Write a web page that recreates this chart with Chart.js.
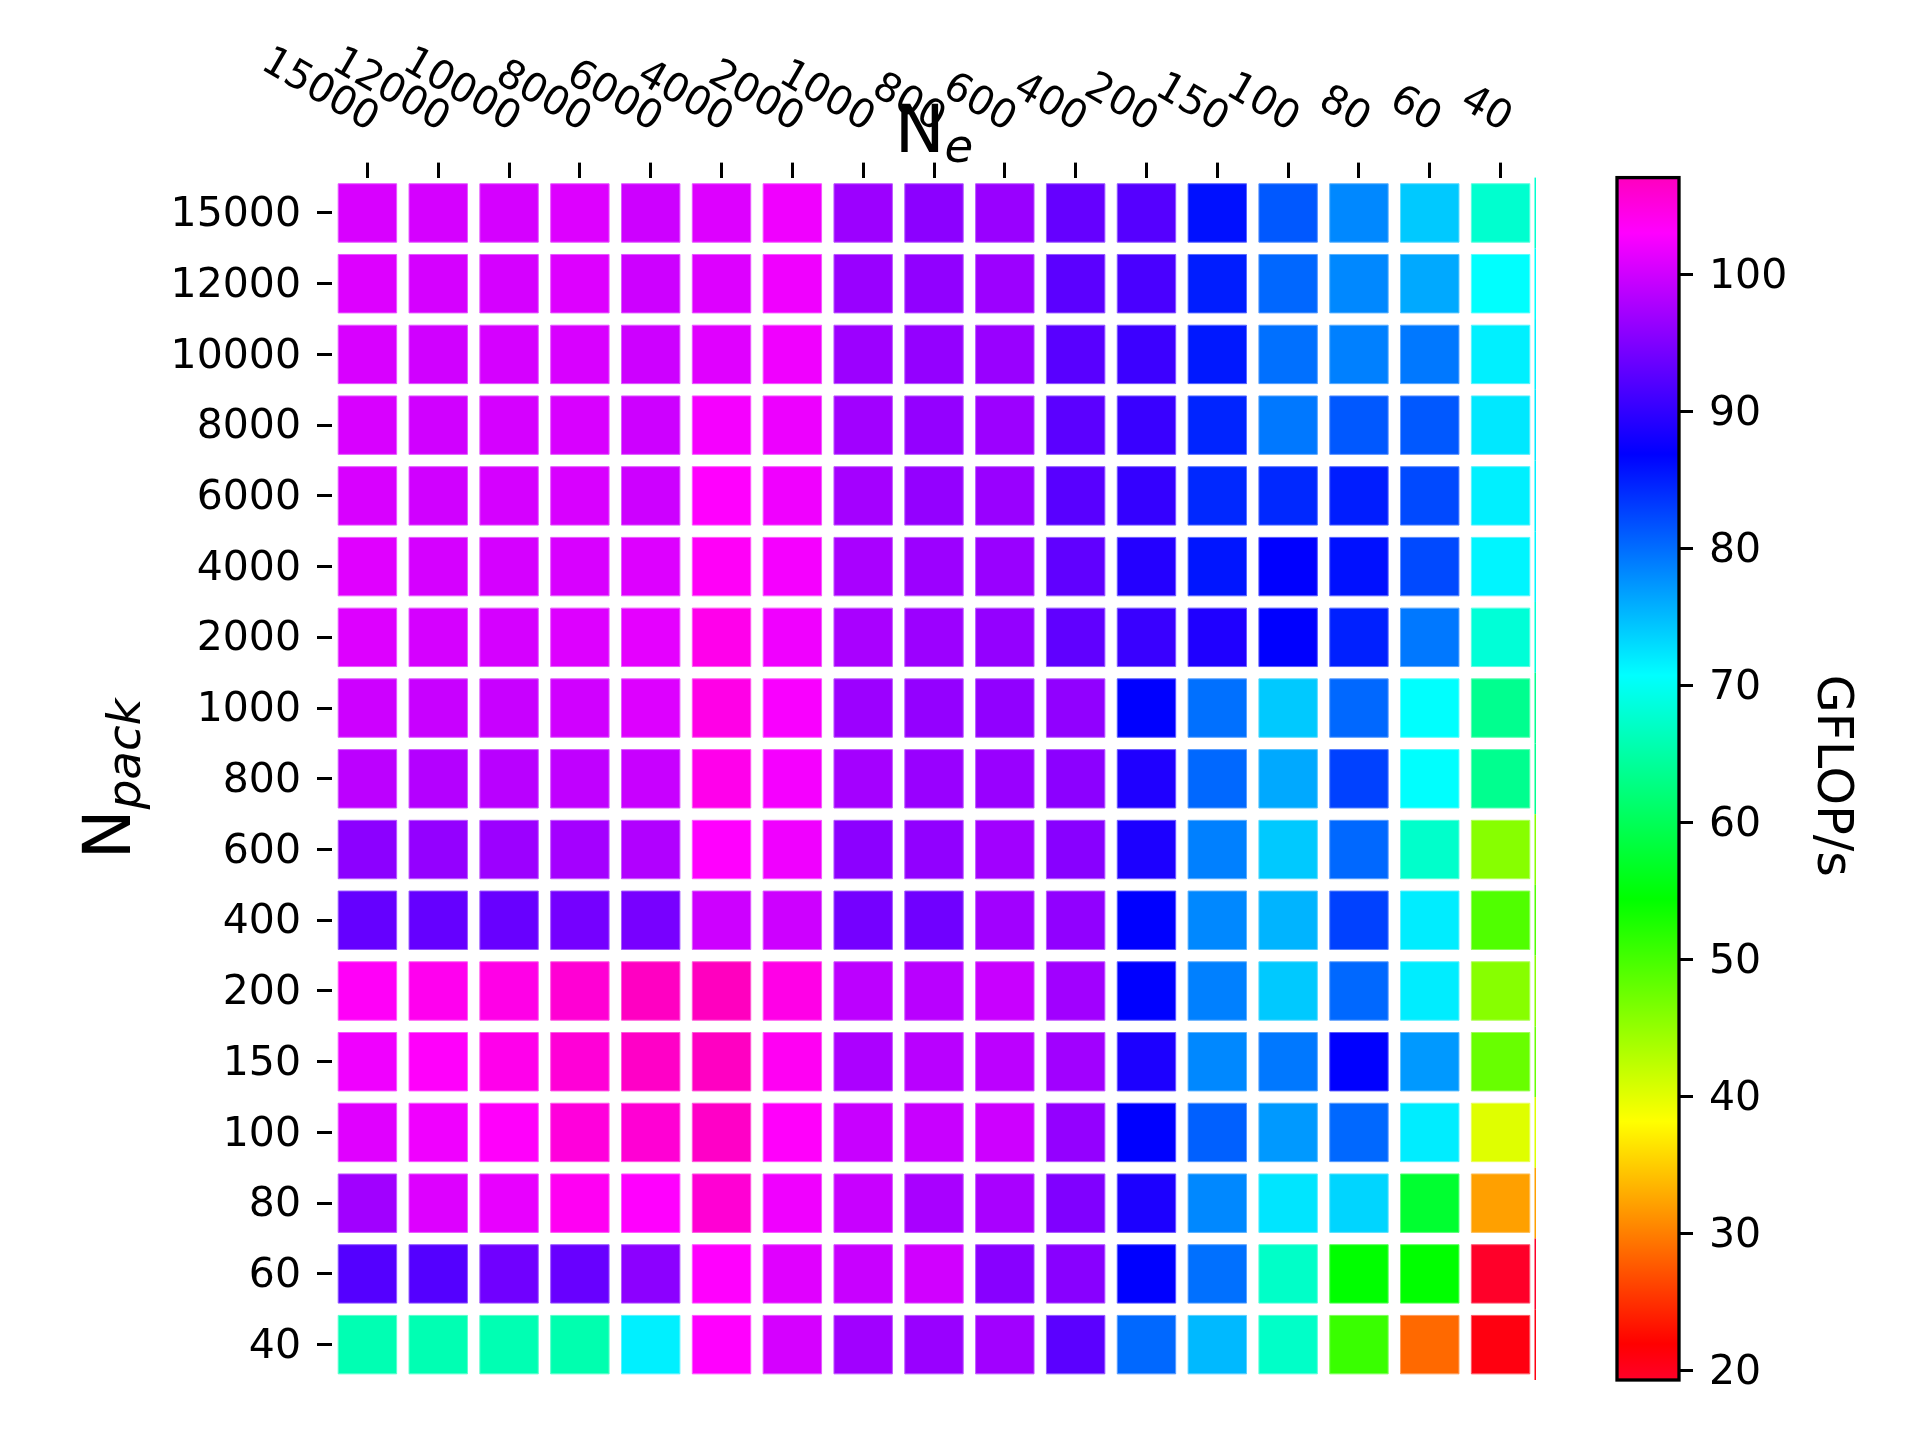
<!DOCTYPE html>
<html>
<head>
<meta charset="utf-8">
<script src="https://cdn.jsdelivr.net/npm/chart.js@4/dist/chart.umd.min.js"></script>
<style>
html,body{margin:0;padding:0;background:#fff;}
#wrap{position:relative;width:1920px;height:1440px;background:#fff;}
#wrap canvas{position:absolute;left:0;top:0;}
</style>
</head>
<body>
<div id="wrap">
<canvas id="heat" width="1920" height="1440"></canvas>
<canvas id="cbar" width="1920" height="1440"></canvas>
</div>
<script>
// ---- categories / tick labels ----
const neLabels = ['15000','12000','10000','8000','6000','4000','2000','1000','800','600','400','200','150','100','80','60','40'];
const npackLabels = ['15000','12000','10000','8000','6000','4000','2000','1000','800','600','400','200','150','100','80','60','40'];
const cbarTicks = [20, 30, 40, 50, 60, 70, 80, 90, 100];

// ---- GFLOP/s, one array per N_pack row (columns follow neLabels) ----
const r15000 = [100.6, 100.4, 100.4, 100.9, 99.9, 100.9, 102.1, 96.8, 95.8, 96.6, 93.3, 92.3, 85.9, 81.3, 78.3, 74.2, 67.7];
const r12000 = [100.9, 100.4, 100.4, 100.9, 99.9, 100.9, 102.1, 96.6, 96.1, 96.8, 92.7, 91.5, 85.1, 80.4, 78.3, 76.2, 70.7];
const r10000 = [100.6, 100.1, 100.4, 100.6, 99.9, 101.1, 102.1, 96.8, 96.3, 96.6, 92.5, 90.7, 85.4, 79.8, 78.8, 79.3, 71.7];
const r8000  = [100.6, 100.1, 100.4, 100.6, 99.9, 102.4, 101.9, 97.1, 96.3, 96.8, 92.7, 90.5, 84.6, 79.3, 81.3, 81.3, 72.2];
const r6000  = [100.6, 100.1, 100.4, 100.6, 99.9, 103.1, 102.1, 97.3, 96.3, 96.6, 92.5, 90.2, 84.4, 84.4, 85.1, 82.3, 71.7];
const r4000  = [101.1, 100.4, 100.4, 100.6, 100.9, 103.5, 102.4, 97.6, 96.8, 96.6, 93.0, 89.2, 85.6, 86.9, 85.9, 82.3, 71.4];
const r2000  = [100.9, 100.4, 100.4, 100.9, 101.4, 104.3, 102.1, 97.6, 96.8, 96.3, 93.0, 90.5, 88.9, 86.9, 84.9, 79.3, 68.2];
const r1000  = [99.9, 99.6, 99.6, 100.1, 100.9, 104.6, 102.7, 96.8, 96.3, 96.1, 96.1, 86.9, 79.8, 74.2, 80.3, 70.7, 63.6];
const r800   = [98.8, 98.3, 98.6, 99.1, 99.6, 104.3, 102.4, 97.3, 96.6, 96.6, 95.8, 88.9, 80.3, 76.2, 82.8, 70.7, 63.6];
const r600   = [95.8, 96.3, 96.8, 97.3, 98.1, 103.1, 102.1, 95.8, 96.1, 97.1, 95.5, 88.7, 78.8, 74.2, 80.3, 67.4, 45.8];
const r400   = [93.3, 93.3, 93.5, 94.3, 94.5, 99.9, 99.9, 94.3, 94.0, 97.1, 96.1, 86.9, 78.3, 75.5, 82.8, 71.9, 49.3];
const r200   = [103.5, 104.1, 104.6, 105.8, 106.9, 107.1, 104.6, 98.8, 98.6, 99.6, 97.1, 86.9, 78.8, 74.2, 80.3, 71.9, 45.8];
const r150   = [102.1, 103.3, 104.3, 105.6, 106.6, 106.9, 103.8, 97.8, 98.6, 98.8, 97.1, 88.7, 78.3, 79.3, 86.9, 77.2, 47.8];
const r100   = [101.1, 102.1, 103.3, 105.3, 105.8, 106.6, 103.3, 99.6, 99.6, 99.9, 96.3, 86.9, 80.8, 77.2, 80.3, 71.9, 40.2];
const r80    = [97.1, 100.9, 101.6, 103.8, 103.1, 105.8, 102.1, 99.6, 97.6, 97.6, 95.0, 88.7, 78.3, 72.4, 73.4, 57.5, 32.1];
const r60    = [92.2, 92.2, 94.0, 93.5, 95.8, 103.1, 101.1, 99.6, 100.1, 95.5, 95.5, 86.9, 79.8, 67.2, 54.4, 54.4, 19.3];
const r40    = [65.9, 65.9, 65.9, 65.6, 71.7, 103.1, 100.4, 97.1, 96.6, 97.1, 92.7, 80.3, 75.2, 67.2, 50.8, 28.6, 20.9];

const rows = [r15000, r12000, r10000, r8000, r6000, r4000, r2000, r1000, r800, r600, r400, r200, r150, r100, r80, r60, r40];

// ---- colormap (matplotlib gist_rainbow) ----
const cmapStops = [
  [0.000, [1.00, 0.00, 0.16]],
  [0.030, [1.00, 0.00, 0.00]],
  [0.215, [1.00, 1.00, 0.00]],
  [0.400, [0.00, 1.00, 0.00]],
  [0.586, [0.00, 1.00, 1.00]],
  [0.770, [0.00, 0.00, 1.00]],
  [0.954, [1.00, 0.00, 1.00]],
  [1.000, [1.00, 0.00, 0.75]]
];
function cmapRGB(t) {
  t = Math.max(0, Math.min(1, t));
  for (let i = 1; i < cmapStops.length; i++) {
    const [t1, c1] = cmapStops[i];
    const [t0, c0] = cmapStops[i - 1];
    if (t <= t1) {
      const f = (t - t0) / (t1 - t0);
      return c0.map((v, k) => v + (c1[k] - v) * f);
    }
  }
  return cmapStops[cmapStops.length - 1][1];
}
function rgbStr(c, mixWhite) {
  const m = mixWhite || 0;
  const r = Math.round(255 * (c[0] + (1 - c[0]) * m));
  const g = Math.round(255 * (c[1] + (1 - c[1]) * m));
  const b = Math.round(255 * (c[2] + (1 - c[2]) * m));
  return `rgb(${r},${g},${b})`;
}

const allVals = rows.flat();
const vmin = Math.min(...allVals);
const vmax = Math.max(...allVals);
const norm = v => (v - vmin) / (vmax - vmin);

const cells = [];
rows.forEach((row, r) => row.forEach((v, c) => cells.push({ x: neLabels[c], y: npackLabels[r], v: v })));

Chart.defaults.font.family = "'DejaVu Sans'";
Chart.defaults.color = '#000';

const CELL_FRAC = 0.825;
function cellRadius(ctx) {
  const a = ctx.chart.chartArea;
  if (!a) return 0;
  const pitch = (a.right - a.left) / neLabels.length;
  return pitch * CELL_FRAC / Math.SQRT2;
}

const heatPlugin = {
  id: 'heatText',
  afterDraw(chart) {
    const { ctx, chartArea: a } = chart;
    const xs = chart.scales.x, ys = chart.scales.y;
    ctx.save();
    // right edge colored line
    const rowH = (a.bottom - a.top) / npackLabels.length;
    rows.forEach((row, i) => {
      const yc = ys.getPixelForValue(i);
      ctx.fillStyle = rgbStr(cmapRGB(norm(row[row.length - 1])));
      ctx.fillRect(a.right - 1.5, yc - rowH / 2, 1.5, rowH);
    });
    // x tick labels (top, rotated)
    ctx.fillStyle = '#000';
    ctx.font = "40px 'DejaVu Sans'";
    ctx.textAlign = 'right';
    ctx.textBaseline = 'alphabetic';
    neLabels.forEach((lab, i) => {
      const px = xs.getPixelForValue(i);
      ctx.save();
      ctx.translate(px + 2, a.top - 46);
      ctx.rotate(Math.PI / 6);
      ctx.fillText(lab, 0, 0);
      ctx.restore();
    });
    // axis labels with subscripts
    const fN = "66.7px 'DejaVu Sans'";
    const fSub = "italic 46.7px 'DejaVu Sans'";
    ctx.textAlign = 'left';
    ctx.font = fN; const wN = ctx.measureText('N').width;
    ctx.font = fSub; const wE = ctx.measureText('e').width;
    const cx = (a.left + a.right) / 2;
    const x0 = cx - (wN + wE) / 2;
    ctx.font = fN; ctx.fillText('N', x0, 152);
    ctx.font = fSub; ctx.fillText('e', x0 + wN, 162);

    ctx.font = fSub; const wP = ctx.measureText('pack').width;
    ctx.save();
    ctx.translate(130, (a.top + a.bottom) / 2);
    ctx.rotate(-Math.PI / 2);
    const s = -(wN + wP) / 2;
    ctx.font = fN; ctx.fillText('N', s, 0);
    ctx.font = fSub; ctx.fillText('pack', s + wN, 10);
    ctx.restore();
    ctx.restore();
  }
};

new Chart(document.getElementById('heat'), {
  type: 'scatter',
  data: {
    datasets: [{
      data: cells,
      pointStyle: 'rect',
      pointRadius: cellRadius,
      pointHoverRadius: cellRadius,
      pointBackgroundColor: c => c.raw ? rgbStr(cmapRGB(norm(c.raw.v))) : '#000',
      pointBorderColor: c => c.raw ? rgbStr(cmapRGB(norm(c.raw.v)), 0.35) : '#000',
      pointBorderWidth: 1
    }]
  },
  options: {
    responsive: false,
    animation: false,
    events: [],
    devicePixelRatio: 1,
    clip: false,
    layout: { padding: { left: 0, top: 0, right: 384, bottom: 60 } },
    plugins: { legend: { display: false }, tooltip: { enabled: false } },
    scales: {
      x: {
        type: 'category',
        labels: neLabels,
        position: 'top',
        offset: true,
        grid: { display: true, drawOnChartArea: false, drawTicks: true, tickLength: 15, tickWidth: 3, tickColor: '#000', offset: false },
        border: { display: false },
        ticks: { display: false, autoSkip: false },
        afterFit: s => { s.height = 177.6; }
      },
      y: {
        type: 'category',
        labels: npackLabels,
        position: 'left',
        offset: true,
        grid: { display: true, drawOnChartArea: false, drawTicks: true, tickLength: 15, tickWidth: 3, tickColor: '#000', offset: false },
        border: { display: false },
        ticks: { autoSkip: false, minRotation: 0, maxRotation: 0, font: { size: 41 }, color: '#000', padding: 16, labelOffset: 2.5 },
        afterFit: s => { s.width = 332; }
      }
    }
  },
  plugins: [heatPlugin]
});

// ---- colorbar ----
function gradFill(ctx) {
  const a = ctx.chart.chartArea;
  if (!a) return '#000';
  const g = ctx.chart.ctx.createLinearGradient(0, a.bottom, 0, a.top);
  cmapStops.forEach(([t, c]) => g.addColorStop(t, rgbStr(c)));
  return g;
}
const cbarPlugin = {
  id: 'cbarDeco',
  afterDraw(chart) {
    const { ctx, chartArea: a } = chart;
    ctx.save();
    ctx.strokeStyle = '#000';
    ctx.lineWidth = 3.3;
    ctx.strokeRect(a.left, a.top, a.right - a.left, a.bottom - a.top);
    ctx.fillStyle = '#000';
    ctx.font = "49px 'DejaVu Sans'";
    ctx.textAlign = 'center';
    ctx.textBaseline = 'alphabetic';
    ctx.translate(1818, (a.top + a.bottom) / 2 - 3);
    ctx.rotate(Math.PI / 2);
    ctx.fillText('GFLOP/s', 0, 0);
    ctx.restore();
  }
};

new Chart(document.getElementById('cbar'), {
  type: 'bar',
  data: {
    labels: ['GFLOP/s'],
    datasets: [{
      data: [[vmin, vmax]],
      backgroundColor: gradFill,
      borderWidth: 0,
      barPercentage: 1,
      categoryPercentage: 1
    }]
  },
  options: {
    responsive: false,
    animation: false,
    events: [],
    devicePixelRatio: 1,
    layout: { padding: { left: 1617, top: 177.6, right: 91, bottom: 60 } },
    plugins: { legend: { display: false }, tooltip: { enabled: false } },
    scales: {
      x: { display: false },
      y: {
        type: 'linear',
        position: 'right',
        min: vmin,
        max: vmax,
        afterBuildTicks: s => { s.ticks = cbarTicks.map(v => ({ value: v })); },
        grid: { display: true, drawOnChartArea: false, drawTicks: true, tickLength: 14, tickWidth: 3, tickColor: '#000' },
        border: { display: false },
        ticks: { font: { size: 41 }, color: '#000', padding: 16, labelOffset: 2.5 },
        afterFit: s => { s.width = 150; }
      }
    }
  },
  plugins: [cbarPlugin]
});
</script>
</body>
</html>
